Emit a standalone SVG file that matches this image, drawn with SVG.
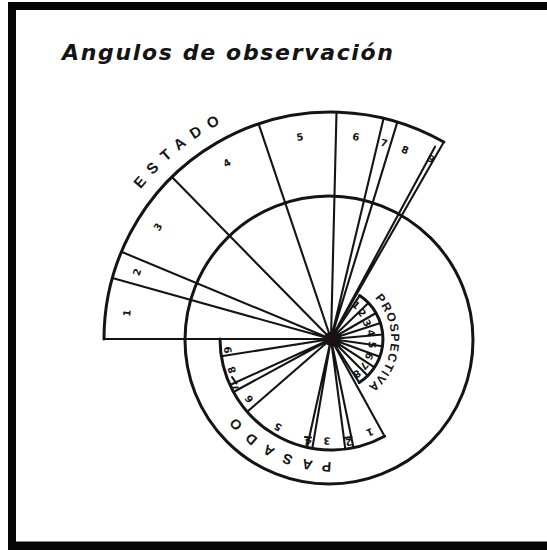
<svg xmlns="http://www.w3.org/2000/svg" width="547" height="550" viewBox="0 0 547 550">
<style>
.ln{stroke:#141414;stroke-width:2.1;fill:none;stroke-linecap:round}
.arc{stroke:#141414;stroke-width:3;fill:none;stroke-linecap:round}
.num{font-family:"DejaVu Sans",sans-serif;font-weight:bold;font-size:10px;fill:#141414;text-anchor:middle;dominant-baseline:central}
.big{font-family:"Liberation Sans",sans-serif;font-weight:bold;fill:#141414}
</style>
<defs>
<path id="pEstado" d="M 89 339 A 242 242 0 0 1 385.4 103.2"/>
<path id="pPasado" d="M 392.5 445.5 A 123 123 0 0 1 208.5 349.7"/>
<path id="pProsp" d="M 361 287 A 60 60 0 0 1 351.5 395.4"/>
</defs>
<rect width="547" height="550" fill="#ffffff"/>
<g id="frame" fill="#050505">
<rect x="8" y="2" width="539" height="8"/>
<rect x="8" y="2" width="8" height="548"/>
<rect x="8" y="541.5" width="539" height="8.5"/>
</g>
<text id="title" x="62" y="60" font-family="DejaVu Sans, sans-serif" font-style="oblique" font-weight="bold" font-size="22" fill="#141414" textLength="331" lengthAdjust="spacing">Angulos de observación</text>
<g id="connectors">
<path class="ln" d="M331 339 L104 339 M331 339 L112.4 278 M331 339 L121.4 251.8 M331 339 L171.9 177.1 M331 339 L258.6 123.8 M331 339 L336.5 112.1 M331 339 L383.6 118.2 M331 339 L397.4 121.9 M331 339 L435 146.7 M331 339 L443.8 142"/>
<path class="ln" d="M331 339 L221.3 356.2 M331 339 L230 385 M331 339 L233.5 392 M331 339 L247.2 411.8 M331 339 L307 447.4 M331 339 L312.3 448.4 M331 339 L345.3 449.1 M331 339 L353.5 447.7 M331 339 L384.6 436.2"/>
<path class="ln" d="M232 377 L236.5 383.5 M305 437 L311 437.5 M344 438 L351.5 437"/>
<path class="ln" d="M331 339 L359.6 295.6 M331 339 L368.4 302.9 M331 339 L376 313 M331 339 L380.5 322.9 M331 339 L382.8 334.5 M331 339 L382.5 346.2 M331 339 L379.9 356.8 M331 339 L374.6 367.3 M331 339 L367.8 375.8 M331 339 L359.3 382.6"/>
</g>
<g id="estado">
<path class="arc" d="M 104 339 A 227 227 0 0 1 443.8 142"/>
<text class="big" font-size="15" letter-spacing="8.5" text-anchor="middle"><textPath href="#pEstado" startOffset="50%">ESTADO</textPath></text>
<text class="num" transform="translate(127 313) rotate(-83)">1</text>
<text class="num" transform="translate(137 272) rotate(-71)">2</text>
<text class="num" transform="translate(158 227) rotate(-57)">3</text>
<text class="num" transform="translate(227 163) rotate(-31)">4</text>
<text class="num" transform="translate(300 137) rotate(-9)">5</text>
<text class="num" transform="translate(356 137) rotate(7)">6</text>
<text class="num" transform="translate(384 143) rotate(15)" font-size="8">7</text>
<text class="num" transform="translate(405 150) rotate(21)">8</text>
<text class="num" transform="translate(431 159) rotate(29)">9</text>
</g>
<g id="circulo">
<circle class="arc" cx="329" cy="340" r="144"/>
</g>
<g id="pasado">
<path class="arc" d="M 220 339 A 111 111 0 0 0 384.6 436.2"/>
<text class="big" font-size="14" letter-spacing="10" text-anchor="middle"><textPath href="#pPasado" startOffset="50%">PASADO</textPath></text>
<text class="num" transform="translate(228 350) rotate(-96)">9</text>
<text class="num" transform="translate(232 370) rotate(-107)">8</text>
<text class="num" transform="translate(235 388) rotate(-117)" font-size="8">7</text>
<text class="num" transform="translate(249 399) rotate(-126)">6</text>
<text class="num" transform="translate(278 427) rotate(-149)">5</text>
<text class="num" transform="translate(308 442) rotate(-167)" font-size="8">4</text>
<text class="num" transform="translate(327 441) rotate(-178)">3</text>
<text class="num" transform="translate(349 442) rotate(-190)" font-size="8">2</text>
<text class="num" transform="translate(370 432) rotate(-203)">1</text>
</g>
<g id="prospectiva">
<path class="arc" d="M 359.6 295.6 A 52 52 0 0 1 359.3 382.6"/>
<text class="big" font-size="12" letter-spacing="1.4" text-anchor="middle"><textPath href="#pProsp" startOffset="50%">PROSPECTIVA</textPath></text>
<text class="num" font-size="7" transform="translate(356 305) rotate(40)">1</text>
<text class="num" font-size="7" transform="translate(362 313) rotate(53)">2</text>
<text class="num" font-size="7" transform="translate(367 323) rotate(64)">3</text>
<text class="num" font-size="7" transform="translate(371 333) rotate(80)">4</text>
<text class="num" font-size="7" transform="translate(372 345) rotate(97)">5</text>
<text class="num" font-size="7" transform="translate(369 356) rotate(114)">6</text>
<text class="num" font-size="7" transform="translate(364 366) rotate(128)">7</text>
<text class="num" font-size="7" transform="translate(357 374) rotate(142)">8</text>
</g>
<g id="centro">
<circle cx="331" cy="339" r="7" fill="#1c1012"/>
</g>
</svg>
